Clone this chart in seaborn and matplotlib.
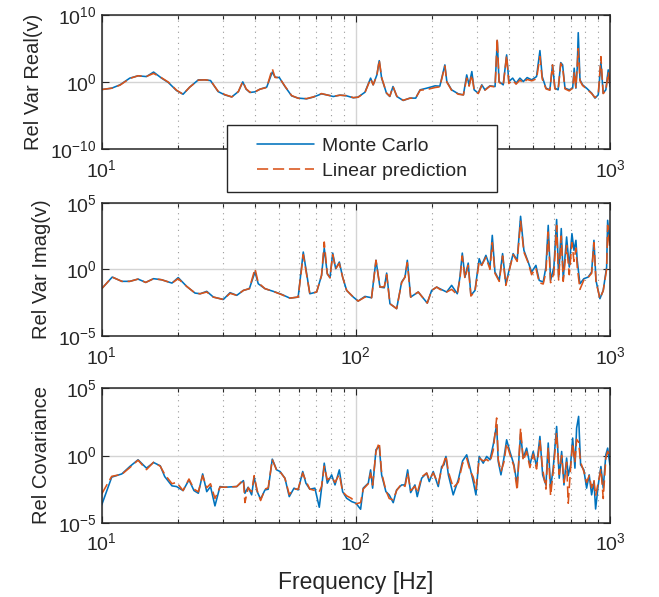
import matplotlib
matplotlib.use("Agg")
import matplotlib.pyplot as plt
import matplotlib.ticker as mticker
from matplotlib.patches import Rectangle
import seaborn as sns
import pandas as pd
import numpy as np

# values as log10 exponents

real_freq = [10.0, 10.95, 11.8, 12.9, 13.9, 15.0, 16.0, 17.2, 18.3, 19.7, 20.9, 22.2, 24.0, 25.5, 26.8,
             28.7, 30.5, 32.5, 34.5, 35.9, 37.0, 38.3, 40.1, 42.0, 44.6, 46.9, 48.1, 50.0, 52.6, 55.9,
             59.3, 64.0, 68.0, 73.3, 76.8, 81.5, 86.6, 92.0, 97.7, 102, 108.6, 114.3, 117, 121, 123.6,
             126.3, 132, 136, 140, 145, 153.6, 163, 172, 179, 190, 205, 214, 224, 228, 238,
             253, 265, 273, 279, 286, 292, 303, 313, 322, 337, 353, 360, 366, 380, 392,
             400, 414, 427, 442, 456, 472, 492, 514, 530, 541, 560, 580, 594, 607, 625,
             640, 651, 665, 691, 713, 723, 734, 743, 750, 762, 780, 809, 847, 873, 899,
             921, 940, 963, 984, 1000]
real_mc = [-1.1, -0.9, -0.4, 0.6, 0.94, 0.83, 1.5, 0.6, -0.06, -1.25, -1.8, -0.74, 0.34, 0.34, 0.24,
           -1.4, -1.9, -2.2, -1.4, 0.04, -1.04, -1.54, -1.44, -1.04, -0.74, 1.5, 0.74, 0.68, -0.65, -2.04,
           -2.38, -2.48, -2.23, -1.74, -1.89, -2.14, -1.93, -2.04, -2.33, -2.23, -1.5, 0.6, -0.4, 1.08, 3.2,
           0.6, -1.64, -2.14, -0.65, -2.14, -2.73, -2.38, -2.38, -1.14, -0.9, -0.55, -0.6, 2.57, 0.09, -1.14,
           -1.74, -1.89, 1.08, -0.4, 1.58, -1.14, -1.64, -0.4, -1.14, -0.55, -0.65, 6.2, 0.09, -0.4, 4.06,
           0.09, 0.6, -0.15, 0.6, 0.09, 0.68, 0.34, 0.83, 4.7, 0.83, -0.9, -1.14, 2.57, -0.9, -1.14,
           2.91, 2.57, -0.9, -1.14, -0.9, 2.08, -0.9, 2.08, 7.37, 0.34, -0.4, -0.9, -1.64, -2.38, -1.89,
           3.0, -1.64, -1.14, 1.83, -0.65]
real_lp = [-1.1, -0.9, -0.45, 0.55, 0.95, 0.85, 1.3, 0.65, 0.0, -1.2, -1.8, -0.74, 0.3, 0.34, 0.24,
           -1.35, -1.85, -2.2, -1.4, 0.1, -1.0, -1.5, -1.44, -1.04, -0.8, 2.0, 0.7, 0.65, -0.6, -2.0,
           -2.4, -2.45, -2.2, -1.7, -1.9, -2.1, -1.95, -2.0, -2.3, -2.25, -1.55, 0.5, -0.4, 1.0, 3.3,
           0.7, -1.6, -2.1, -0.65, -2.1, -2.7, -2.4, -2.35, -1.2, -1.1, -0.8, -0.7, 2.4, 0.0, -1.2,
           -1.8, -1.9, 0.6, -0.6, 1.1, -1.2, -1.7, -0.5, -1.2, -0.6, -0.7, 6.54, 0.0, -0.5, 4.0,
           -0.2, 0.3, -0.3, 0.3, -0.1, 0.4, 0.2, 0.5, 3.8, 0.5, -1.0, -1.2, 2.57, -1.0, -1.2,
           2.8, 2.2, -1.0, -1.3, -0.9, 1.5, -0.8, 2.5, 5.0, 0.2, -0.5, -1.0, -1.7, -2.3, -1.9,
           3.8, -1.7, -1.3, 1.5, -0.65]

imag_freq = [10.0, 11.0, 12.0, 12.9, 13.9, 14.9, 16.0, 17.2, 18.9, 20.0, 21.6, 23.3, 24.4, 25.9, 27.5,
             30.1, 32.0, 34.0, 36.1, 38.1, 40.1, 41.3, 43.9, 47.3, 51.1, 55.0, 59.3, 62.1, 65.9, 70.1,
             73.3, 75.1, 77.2, 79.1, 81.1, 83.3, 86.1, 88.7, 92.0, 97.7, 102.1, 108.6, 115.3, 120, 124.4,
             129.4, 132.2, 136.2, 144.7, 151.4, 156.1, 159.4, 164.3, 176, 191, 198.7, 208, 214, 227.6, 238.2,
             250.6, 256.8, 262.3, 268.7, 276.8, 283.6, 294.3, 305.7, 312.6, 324.9, 337.1, 344.2, 352.6, 366.6, 377.9,
             389.2, 403.6, 415.8, 431.3, 444.8, 458.3, 476.5, 491.5, 511.1, 526.6, 546, 559.6, 571.4, 583.7, 601.5,
             616.6, 627.9, 643, 654.6, 675, 691.4, 708.4, 721.6, 734.4, 743, 761.5, 789.1, 820.6, 846.6, 864.6,
             880.7, 912.6, 940.5, 969.9, 978.9, 999]
imag_mc = [-1.45, -0.58, -0.9, -0.9, -0.73, -0.98, -0.7, -0.78, -1.03, -0.62, -1.28, -1.78, -1.83, -1.65, -2.08,
           -2.26, -1.75, -1.95, -1.58, -1.45, -0.2, -1.08, -1.45, -1.65, -1.88, -2.16, -2.08, 1.3, -1.83, -1.7,
           -0.45, 1.6, -0.33, -0.63, 1.22, 0.05, 0.55, -0.58, -1.58, -2.08, -2.38, -2.03, -2.13, 0.68, -1.33,
           -1.38, -0.28, -2.58, -2.95, -0.95, -0.58, 0.68, -2.08, -1.7, -2.53, -1.58, -1.33, -1.45, -1.7, -1.2,
           -1.83, -0.58, 1.22, -0.58, 0.47, -1.95, -1.58, 0.8, 0.3, 1.05, 0.17, 2.55, -0.2, -0.83, 1.18,
           -1.08, 0.17, 1.18, 0.68, 3.98, 1.43, 0.55, -0.2, 0.3, -0.83, -0.95, 0.17, 3.3, -0.83, 0.17,
           3.74, -0.58, 3.06, -0.7, 2.43, 0.17, 2.68, 1.43, 2.18, 0.68, -1.08, -0.7, -0.58, -0.2, 2.18,
           -0.83, -2.2, -1.58, 0.17, 3.68, 1.93]
imag_lp = [-1.45, -0.58, -0.9, -0.9, -0.73, -0.98, -0.7, -0.78, -1.03, -0.7, -1.28, -1.78, -1.83, -1.7, -2.08,
           -2.26, -1.8, -1.95, -1.58, -1.45, 0.05, -1.0, -1.45, -1.65, -1.9, -2.16, -2.08, 1.1, -1.83, -1.7,
           -0.45, 2.05, -0.33, -0.63, 1.1, 0.05, 0.45, -0.58, -1.58, -2.08, -2.38, -2.08, -2.13, 0.68, -1.33,
           -1.3, -0.4, -2.58, -2.95, -1.0, -0.58, 0.5, -2.08, -1.7, -2.53, -1.58, -1.33, -1.5, -1.7, -1.5,
           -1.9, -0.7, 1.0, -0.7, 0.3, -2.0, -1.65, 0.6, 0.3, 0.9, 0.0, 2.0, -0.3, -0.9, 1.0,
           -1.2, 0.1, 1.1, 0.6, 3.6, 1.3, 0.5, -0.4, 0.1, -1.0, -1.1, -0.2, 2.8, -1.0, -0.3,
           3.3, -0.8, 2.5, -0.9, 1.8, -0.4, 2.0, 0.6, 1.6, 0.2, -1.5, -0.8, -0.6, -0.3, 2.0,
           -0.9, -2.2, -1.6, 0.0, 3.3, 1.5]

cov_freq = [10.0, 10.95, 12.0, 12.9, 13.9, 15.0, 16.0, 17.0, 17.7, 18.9, 19.7, 20.9, 22.05, 23.07, 24.0,
            24.96, 25.9, 26.8, 27.9, 29.2, 30.5, 34.0, 36.1, 36.6, 37.7, 38.9, 39.8, 40.9, 42.2, 43.9,
            45.2, 46.9, 48.8, 50.3, 52.6, 54.7, 57.1, 59.3, 61.8, 63.6, 65.9, 69.0, 71.8, 73.3, 75.1,
            77.2, 80.3, 82.8, 86.1, 88.7, 92.0, 96.3, 100.1, 104.4, 106.9, 111.9, 114.3, 116.4, 120, 123.6,
            126.3, 131.3, 135.3, 140.3, 144.7, 151.4, 156.1, 159.9, 164.3, 170.8, 174.4, 181.5, 190, 194.5, 201.6,
            211, 217.6, 222.2, 226.2, 231.2, 241.6, 252.9, 263, 273, 281.2, 289.6, 296.8, 305.7, 317.1, 327.1,
            337.1, 347.2, 358.1, 363.3, 372.3, 382.5, 392, 403.6, 418.8, 431.3, 444.8, 455.5, 469.8, 484.1, 498.8,
            514, 530, 543.2, 559.6, 571.4, 583.7, 597.7, 616.6, 631.3, 645.2, 658.9, 675, 684.9, 699.8, 713,
            727.8, 739, 752.5, 766.2, 789.1, 809, 828.2, 846.6, 864.6, 877.8, 899, 921, 940.5, 963, 979,
            999]
cov_mc = [-3.68, -1.61, -1.37, -0.82, -0.32, -0.94, -0.52, -0.77, -1.57, -2.26, -2.31, -2.61, -1.81, -2.61, -2.81,
          -1.37, -2.69, -2.31, -3.75, -2.31, -2.36, -2.31, -1.87, -2.81, -2.36, -2.93, -1.61, -2.69, -3.25, -2.56,
          -2.51, -0.27, -1.07, -1.19, -1.69, -3.06, -2.43, -2.56, -1.19, -2.06, -2.51, -2.43, -3.85, -2.43, -0.57,
          -2.06, -1.44, -2.19, -1.07, -2.69, -3.18, -3.43, -3.55, -4.0, -2.43, -2.06, -1.07, -2.43, 0.43, 0.7,
          -1.44, -2.69, -2.93, -3.51, -2.56, -2.19, -2.19, -1.07, -2.76, -2.19, -3.06, -1.69, -1.31, -1.94, -1.19,
          -2.31, -0.82, -0.69, -0.07, -1.44, -2.93, -1.81, -0.4, 0.05, -0.9, -1.94, -2.93, -0.07, -0.57, -0.07,
          -0.32, 0.8, 2.3, -0.45, -1.44, -0.19, 1.17, 0.3, -0.69, -2.19, 1.6, -0.19, 0.55, -0.69, 0.3,
          -0.82, 1.42, -1.44, -2.19, 0.93, -2.43, -0.94, 2.16, -1.69, 0.3, -2.19, -0.19, -1.5, -0.69, 1.3,
          -0.94, 2.04, 2.91, -0.69, -1.07, -2.43, -1.44, -2.93, -1.94, -3.98, -2.19, -0.82, -2.43, 0.05, 0.55,
          -0.69]
cov_lp = [-2.86, -1.55, -1.4, -0.9, -0.35, -1.05, -0.5, -0.8, -1.4, -2.1, -2.0, -2.61, -1.75, -2.5, -2.7,
          -1.5, -2.4, -2.1, -3.2, -2.35, -2.36, -2.31, -1.8, -3.5, -2.4, -2.7, -1.5, -2.6, -3.35, -2.5,
          -2.4, -0.3, -1.1, -1.2, -1.7, -2.9, -2.5, -2.5, -1.3, -1.9, -2.5, -2.6, -2.7, -2.3, -0.8,
          -1.8, -1.6, -2.0, -1.4, -2.7, -3.0, -3.2, -3.6, -3.5, -2.5, -2.1, -1.3, -2.2, 0.3, 0.97,
          -1.3, -2.6, -3.2, -3.3, -2.6, -2.1, -2.3, -1.3, -2.6, -2.3, -2.8, -1.6, -1.3, -1.8, -1.3,
          -2.1, -1.0, -0.5, 0.0, -1.2, -2.4, -2.0, -0.6, -0.2, -1.1, -1.6, -2.5, -0.2, -0.4, -0.3,
          -0.5, 0.4, 2.79, -0.3, -1.2, -0.5, 0.9, 0.1, -0.8, -2.6, 2.04, -0.4, 0.3, -0.9, 0.1,
          -1.0, 1.1, -1.0, -2.5, 0.6, -3.0, -1.2, 1.7, -1.4, 0.0, -2.0, -0.5, -3.55, -0.9, 0.9,
          -0.5, 1.2, 1.0, -0.5, -1.2, -2.0, -1.5, -2.4, -1.8, -3.0, -2.0, -1.0, -3.2, -0.2, 0.3,
          -0.3]

series_names = ["Monte Carlo", "Linear prediction"]
colors = {"Monte Carlo": "#0072BD", "Linear prediction": "#D95319"}

panels = [
    ("Rel Var Real(v)", real_freq, real_mc, real_lp, (1e-10, 1e10), [1e-10, 1e0, 1e10]),
    ("Rel Var Imag(v)", imag_freq, imag_mc, imag_lp, (1e-5, 1e5), [1e-5, 1e0, 1e5]),
    ("Rel Covariance", cov_freq, cov_mc, cov_lp, (1e-5, 1e5), [1e-5, 1e0, 1e5]),
]

sns.set_style("ticks")
plt.rcParams['font.family'] = ['Liberation Sans', 'DejaVu Sans']
plt.rcParams['text.color'] = '#262626'

W, H = 659, 597
fig = plt.figure(figsize=(W / 100, H / 100), dpi=100)

# axes boxes in pixels: (top, bottom)
boxes = [(15, 149.3), (202.7, 336), (388.3, 522.7)]
left_px, right_px = 101.7, 610


def decade_label(hide_mid):
    def fmt(v, pos):
        if hide_mid and abs(v - 100) < 1e-6:
            return ""
        return "$\\mathdefault{10^{%d}}$" % int(round(np.log10(v)))
    return mticker.FuncFormatter(fmt)


axes = []
for i, ((ylab, freq, mc, lp, ylim, yticks), (top, bot)) in enumerate(zip(panels, boxes)):
    ax = fig.add_axes([left_px / W, 1 - bot / H, (right_px - left_px) / W, (bot - top) / H])
    n = len(freq)
    df = pd.DataFrame({
        "freq": np.concatenate([freq, freq]),
        "value": 10.0 ** np.concatenate([mc, lp]),
        "series": [series_names[0]] * n + [series_names[1]] * n,
    })
    sns.lineplot(data=df, x="freq", y="value", hue="series", style="series",
                 hue_order=series_names, style_order=series_names, palette=colors,
                 dashes={"Monte Carlo": "", "Linear prediction": (7, 3)},
                 estimator=None, errorbar=None, linewidth=1.15, legend=False, ax=ax)
    ax.set_xscale("log")
    ax.set_yscale("log")
    ax.set_xlim(10, 1000)
    ax.set_ylim(*ylim)
    ax.set_yticks(yticks)
    ax.yaxis.set_minor_locator(mticker.NullLocator())
    ax.xaxis.set_major_locator(mticker.FixedLocator([10, 100, 1000]))
    # the legend covers the 10^2 label of the top panel
    ax.xaxis.set_major_formatter(decade_label(i == 0))
    ax.xaxis.set_minor_locator(mticker.LogLocator(base=10, subs=np.arange(2, 10)))
    ax.xaxis.set_minor_formatter(mticker.NullFormatter())
    ax.set_axisbelow(True)
    ax.grid(which="major", color="#d4d4d4", linewidth=1.0, linestyle="-")
    ax.grid(which="minor", axis="x", color="#9a9a9a", linewidth=0.8, linestyle=(0, (1, 4)))
    ax.tick_params(which="both", direction="in", top=True, right=True, colors="#262626",
                   labelsize=14, width=0.8)
    ax.tick_params(which="major", length=5)
    ax.tick_params(which="minor", length=3)
    ax.tick_params(axis="x", which="major", pad=7)
    for sp in ax.spines.values():
        sp.set_linewidth(1.1)
        sp.set_color("#262626")
    ax.set_ylabel(ylab, fontsize=14.5, labelpad=5)
    ax.set_xlabel("")
    axes.append(ax)

axes[-1].set_xlabel("Frequency [Hz]", fontsize=16.5, labelpad=12)

# legend box in the top panel
lx0, lx1, ly0, ly1 = 227, 497, 125, 192
fig.add_artist(Rectangle((lx0 / W, 1 - ly1 / H), (lx1 - lx0) / W, (ly1 - ly0) / H,
                         transform=fig.transFigure, facecolor="white", edgecolor="#262626",
                         linewidth=1.0, zorder=4.5))
handles = axes[0].lines[:2]
fig.legend(handles, series_names, loc="center",
           bbox_to_anchor=((lx0 + lx1) / 2 / W, 1 - (ly0 + ly1) / 2 / H),
           frameon=False, fontsize=14, handlelength=2.9, handletextpad=0.4,
           labelspacing=0.35).set_zorder(5)

fig.savefig("out.png", dpi=100)
